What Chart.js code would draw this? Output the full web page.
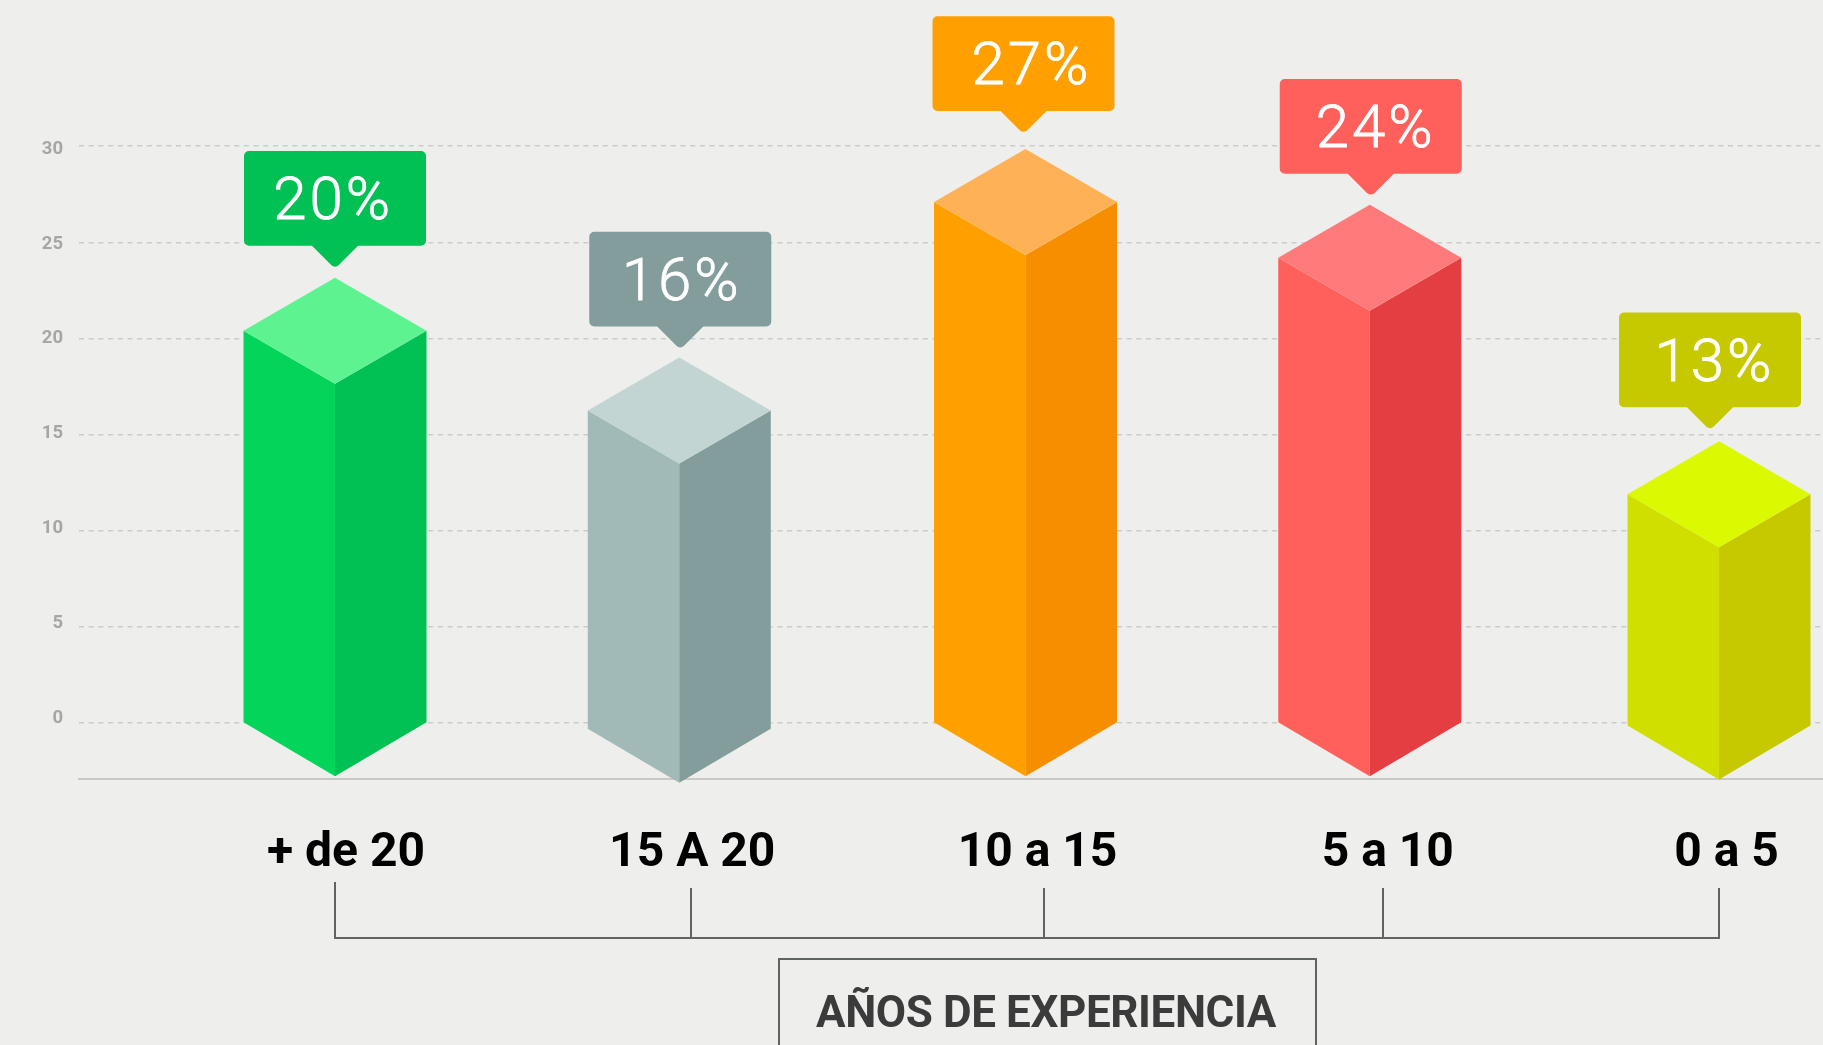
<!DOCTYPE html>
<html lang="es">
<head>
<meta charset="utf-8">
<title>Años de experiencia</title>
<script src="https://cdn.jsdelivr.net/npm/chart.js@4"></script>
<style>
  html, body { margin: 0; padding: 0; background: #eeeeec; overflow: hidden; }
  canvas { display: block; }
</style>
</head>
<body>
<canvas id="expChart" width="1823" height="1045"></canvas>
<script>
const categories = ['+ de 20', '15 A 20', '10 a 15', '5 a 10', '0 a 5'];
const barTops = [20.4, 16.25, 27.1, 24.2, 11.9];
const barBottoms = [0, -0.3, 0, 0, -0.13];
const percentLabels = ['20%', '16%', '27%', '24%', '13%'];
const yTickValues = [0, 5, 10, 15, 20, 25, 30];
const axisTitle = 'AÑOS DE EXPERIENCIA';

const leftColors = ['#02d55a', '#a2bab7', '#ffa000', '#ff605c', '#d0de00'];
const rightColors = ['#01c054', '#829d9b', '#f78e00', '#e53e42', '#c6c900'];
const topColors = ['#5ef391', '#c3d5d3', '#ffb255', '#ff7a7b', '#dbf900'];
const calloutColors = ['#01c054', '#829d9b', '#ffa000', '#ff605c', '#c6c900'];

// hand placed offsets, the original is not quite regular
const barShift = [0, -1.5, -1, -2.5, 1];
const labelShift = [11, 11.5, 11, 15.5, 8.5];
const bracketShift = [0, 10, 17, 11, 1];
const calloutGap = [12, 11, 18, 11, 14];
const calloutShift = [0, 1, -2, 1, -9];
const textShift = [-3.3, 0, 6.5, 3.5, 3];

const DEPTH = 53;
const xUnit = 345.75;

function noPadding(axis) {
  axis.paddingTop = axis.paddingBottom = axis.paddingLeft = axis.paddingRight = 0;
}

function calloutPath(ctx, cx, tipY) {
  const w = 182, h = 94.7, r = 5, tipH = 20, tipW = 23;
  const bottom = tipY - tipH, top = bottom - h;
  const left = cx - w / 2, right = cx + w / 2;
  ctx.beginPath();
  ctx.moveTo(left + r, top);
  ctx.arcTo(right, top, right, bottom, r);
  ctx.arcTo(right, bottom, cx + tipW, bottom, r);
  ctx.lineTo(cx + tipW, bottom);
  ctx.arcTo(cx, tipY + 3, cx - tipW, bottom, 5);
  ctx.lineTo(cx - tipW, bottom);
  ctx.arcTo(left, bottom, left, top, r);
  ctx.arcTo(left, top, right, top, r);
  ctx.closePath();
}

function face(ctx, color, pts) {
  ctx.fillStyle = color;
  ctx.beginPath();
  pts.forEach((p, i) => i ? ctx.lineTo(p[0], p[1]) : ctx.moveTo(p[0], p[1]));
  ctx.closePath();
  ctx.fill();
}

// draws the isometric columns from the bar elements laid out by the scales
const isoBars = {
  id: 'isoBars',
  afterDatasetsDraw(chart) {
    const ctx = chart.ctx;
    chart.getDatasetMeta(0).data.forEach((bar, i) => {
      const x = bar.x + barShift[i], half = bar.width / 2, top = bar.y, base = bar.base;
      const foot = base + DEPTH + 1;
      ctx.save();
      face(ctx, leftColors[i], [[x - half, top], [x, top + DEPTH], [x, foot], [x - half, base]]);
      face(ctx, rightColors[i], [[x, top + DEPTH], [x + half, top], [x + half, base], [x, foot]]);
      face(ctx, topColors[i], [[x, top - DEPTH], [x + half, top], [x, top + DEPTH], [x - half, top]]);

      const cx = x + calloutShift[i];
      const tipY = top - DEPTH - calloutGap[i];
      calloutPath(ctx, cx, tipY);
      ctx.fillStyle = calloutColors[i];
      ctx.fill();

      // light weight thickened a little, no installed weight sits in between
      ctx.fillStyle = '#ffffff';
      ctx.strokeStyle = '#ffffff';
      ctx.lineWidth = 0.8;
      ctx.font = '300 60px Roboto';
      ctx.letterSpacing = '3px';
      ctx.textAlign = 'center';
      ctx.textBaseline = 'middle';
      const tx = cx + textShift[i] + 1.5, ty = tipY - 61.5;
      ctx.fillText(percentLabels[i], tx, ty);
      ctx.strokeText(percentLabels[i], tx, ty);
      ctx.restore();
    });
  }
};

// bracket under the category labels and the boxed title
const bracket = {
  id: 'bracket',
  afterDraw(chart) {
    const ctx = chart.ctx, xs = chart.scales.x;
    const pos = categories.map((c, i) => Math.round(xs.getPixelForValue(i) + bracketShift[i]));
    ctx.save();
    ctx.strokeStyle = '#5f6463';
    ctx.lineWidth = 2;
    ctx.beginPath();
    pos.forEach((x, i) => {
      ctx.moveTo(x, i === 0 ? 882 : 888);
      ctx.lineTo(x, 938);
    });
    ctx.moveTo(pos[0] - 1, 938);
    ctx.lineTo(pos[4] + 1, 938);
    ctx.moveTo(779, 1046);
    ctx.lineTo(779, 959);
    ctx.lineTo(1316, 959);
    ctx.lineTo(1316, 1046);
    ctx.stroke();

    ctx.fillStyle = '#3a3b3a';
    ctx.font = '700 44px Roboto';
    ctx.letterSpacing = '-0.4px';
    ctx.textAlign = 'center';
    ctx.textBaseline = 'middle';
    ctx.fillText(axisTitle, 1046, 1016);
    ctx.restore();
  }
};

new Chart(document.getElementById('expChart'), {
  type: 'bar',
  data: {
    datasets: [{
      data: categories.map((c, i) => ({ x: i, y: [barBottoms[i], barTops[i]] })),
      backgroundColor: 'rgba(0,0,0,0)',
      barThickness: 183
    }]
  },
  options: {
    responsive: false,
    animation: false,
    events: [],
    layout: { padding: 0 },
    plugins: { legend: { display: false }, tooltip: { enabled: false } },
    scales: {
      x: {
        type: 'linear',
        offset: false,
        min: (79 - 335) / xUnit,
        max: (1823 - 335) / xUnit,
        afterBuildTicks: axis => {
          axis.ticks = categories.map((c, i) => ({ value: i + labelShift[i] / xUnit }));
        },
        afterFit: axis => { axis.height = 266; noPadding(axis); },
        grid: { display: false },
        border: { display: true, color: '#c8c8c8', width: 2 },
        ticks: {
          autoSkip: false,
          maxRotation: 0,
          padding: 38,
          color: '#000000',
          font: { family: 'Roboto', size: 48, weight: '700' },
          callback: (v, i) => categories[i]
        }
      },
      y: {
        min: -2.91,
        max: 37.6,
        position: 'left',
        afterBuildTicks: axis => { axis.ticks = yTickValues.map(value => ({ value })); },
        afterFit: axis => { axis.width = 0; noPadding(axis); },
        border: { display: false, dash: [5, 4.7] },
        grid: { color: '#cbcbcb', lineWidth: 1.5, drawTicks: false },
        ticks: { display: false }
      },
      // tick labels sit on their own slightly tighter spacing in the original
      yLabels: {
        min: -3.2,
        max: 37.86,
        position: 'left',
        afterBuildTicks: axis => { axis.ticks = yTickValues.map(value => ({ value })); },
        afterFit: axis => { axis.width = 79; noPadding(axis); },
        border: { display: false },
        grid: { display: false, drawTicks: false },
        ticks: {
          padding: 16,
          color: '#a6a6a6',
          font: { family: 'Roboto', size: 18.5, weight: '700' },
          callback: v => String(v)
        }
      }
    }
  },
  plugins: [isoBars, bracket]
});
</script>
</body>
</html>
